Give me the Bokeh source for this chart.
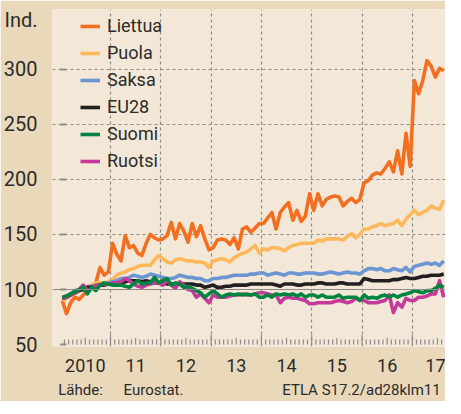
from bokeh.plotting import figure
from bokeh.models import (Range1d, FixedTicker, Span, Legend, LegendItem, LinearAxis)
from bokeh.embed import file_html
from bokeh.resources import INLINE

# ---- data (monthly index, Jan 2010 = 0) ----
start_year = 2010
years = [2010, 2011, 2012, 2013, 2014, 2015, 2016, 2017]
year_labels = ["2010", "11", "12", "13", "14", "15", "16", "17"]
y_ticks = [50, 100, 150, 200, 250, 300]
unit_label = "Ind."
footer_texts = ["Lähde:", "Eurostat.", "ETLA S17.2/ad28klm11"]

liettua = [90, 78, 88, 93, 91, 95, 99, 102, 106, 120, 113, 116,
           142, 132, 126, 149, 138, 140, 133, 131, 142, 150, 147, 145,
           146, 149, 161, 146, 160, 153, 143, 160, 148, 158, 146, 136,
           138, 145, 146, 145, 141, 147, 137, 155, 157, 152, 156, 160,
           160, 165, 170, 155, 170, 175, 179, 163, 172, 162, 167, 187,
           172, 187, 176, 182, 184, 185, 184, 176, 180, 183, 179, 182,
           197, 199, 204, 206, 205, 210, 216, 207, 226, 205, 242, 212,
           290, 278, 290, 308, 303, 293, 301, 299]
puola = [90, 92, 95, 96, 99, 100, 103, 104, 106, 106, 106, 107,
         109, 113, 115, 116, 118, 119, 121, 122, 122, 122, 127, 131,
         128, 125, 124, 127, 128, 127, 126, 126, 125, 125, 124, 120,
         126, 127, 128, 127, 125, 129, 131, 133, 134, 137, 140, 133,
         137, 136, 138, 138, 137, 135, 138, 140, 141, 142, 142, 142,
         142, 145, 144, 146, 146, 146, 146, 145, 148, 151, 147, 150,
         155, 155, 157, 158, 160, 158, 159, 160, 163, 158, 164, 168,
         172, 168, 170, 172, 176, 174, 173, 181]
saksa = [92, 94, 96, 99, 100, 101, 102, 103, 103, 104, 105, 106,
         107, 108, 110, 110, 111, 113, 112, 111, 112, 114, 113, 112,
         111, 110, 110, 111, 113, 112, 111, 111, 110, 110, 108, 108,
         110, 110, 111, 111, 112, 113, 113, 113, 113, 114, 114, 115,
         115, 113, 114, 115, 114, 113, 115, 115, 114, 114, 115, 115,
         115, 114, 114, 115, 116, 115, 114, 115, 116, 115, 115, 114,
         117, 119, 119, 118, 119, 117, 117, 119, 118, 117, 120, 116,
         121, 122, 123, 124, 123, 124, 122, 126]
eu28 = [92, 93, 95, 97, 99, 100, 102, 102, 103, 104, 104, 105,
        105, 106, 106, 107, 108, 108, 108, 107, 108, 107, 106, 106,
        106, 105, 105, 105, 106, 105, 105, 105, 104, 104, 102, 103,
        104, 102, 102, 103, 103, 104, 104, 104, 104, 105, 105, 105,
        105, 105, 105, 104, 103, 105, 105, 105, 104, 104, 105, 105,
        105, 106, 106, 105, 105, 105, 106, 106, 105, 105, 105, 105,
        110, 109, 108, 108, 108, 108, 108, 109, 109, 110, 111, 110,
        110, 111, 112, 112, 113, 113, 113, 114]
suomi = [93, 94, 96, 98, 100, 102, 96, 102, 99, 104, 106, 105,
         104, 104, 104, 103, 102, 105, 108, 105, 106, 106, 111, 106,
         108, 110, 104, 106, 105, 102, 103, 101, 99, 97, 93, 96,
         99, 96, 93, 95, 96, 95, 96, 95, 96, 95, 96, 93,
         93, 95, 93, 96, 95, 96, 95, 96, 94, 96, 93, 95,
         95, 93, 95, 93, 93, 93, 95, 92, 93, 93, 93, 90,
         95, 92, 93, 92, 94, 95, 93, 95, 93, 95, 96, 97,
         99, 98, 97, 99, 99, 101, 104, 102]
ruotsi = [92, 93, 95, 97, 100, 104, 99, 101, 104, 104, 105, 105,
          106, 106, 107, 110, 108, 105, 103, 102, 104, 105, 106, 106,
          104, 108, 104, 101, 107, 104, 100, 99, 93, 96, 92, 88,
          95, 93, 93, 93, 94, 95, 95, 96, 95, 95, 96, 97,
          97, 96, 95, 95, 88, 92, 93, 92, 92, 91, 90, 87,
          87, 88, 88, 88, 88, 89, 90, 89, 88, 89, 92, 91,
          90, 88, 88, 88, 89, 90, 95, 79, 88, 84, 92, 90,
          90, 93, 93, 94, 96, 96, 108, 93]

series = [("Liettua", liettua, "#f26f21"),
          ("Puola", puola, "#fdb85c"),
          ("Saksa", saksa, "#6b95d3"),
          ("EU28", eu28, "#231f20"),
          ("Ruotsi", ruotsi, "#c4399a"),
          ("Suomi", suomi, "#00843f")]
legend_order = ["Liettua", "Puola", "Saksa", "EU28", "Suomi", "Ruotsi"]

n = len(liettua)
xs = [start_year + (i + 0.5) / 12 for i in range(n)]

FONT = "Roboto"
TXT = "#2b2b2b"
OUTER = "#ead8bb"
INNER = "#f3e8d7"
GRID = "#8e8b87"

X0, X1 = 2009.847, 2017.66
Y0, Y1 = 48.2, 354.5
FRAME_H = 337

p = figure(frame_width=393, frame_height=FRAME_H, output_backend="svg", toolbar_location=None,
           x_range=Range1d(X0, X1), y_range=Range1d(Y0, Y1),
           min_border_left=52, min_border_right=0, min_border_top=9, min_border_bottom=52,
           background_fill_color=INNER, border_fill_color=OUTER, outline_line_color=None)

# grids
p.ygrid.ticker = FixedTicker(ticks=[t for t in y_ticks if t > 100])
p.ygrid.grid_line_color = GRID
p.ygrid.grid_line_dash = "3 3"
p.ygrid.grid_line_width = 1.2
p.xgrid.ticker = FixedTicker(ticks=years[1:])
p.xgrid.grid_line_color = GRID
p.xgrid.grid_line_dash = "3 3"
p.xgrid.grid_line_width = 1.2
p.add_layout(Span(location=100, dimension="width", line_color="#8e8b87", line_width=1.2))

# y axis (unit label shown as top label)
p.yaxis.ticker = FixedTicker(ticks=y_ticks + [345])
p.yaxis.major_label_overrides = {345: unit_label}
p.yaxis.axis_line_color = None
p.yaxis.major_tick_line_color = None
p.yaxis.minor_tick_line_color = None
p.yaxis.major_label_standoff = 9
p.yaxis.major_label_text_font = FONT
p.yaxis.major_label_text_font_size = "20px"
p.yaxis.major_label_text_color = TXT

# short tick marks at start of horizontal grid lines
p.segment(x0=[2010.0] * len(y_ticks), x1=[2010.0 + 6 / 50.3] * len(y_ticks),
          y0=y_ticks, y1=y_ticks, line_color="#8e8b87", line_width=2)

# x axis: year labels centred in each year
p.xaxis.ticker = FixedTicker(ticks=[y + 0.5 for y in years])
p.xaxis.major_label_overrides = {y + 0.5: lab for y, lab in zip(years, year_labels)}
p.xaxis.axis_line_color = None
p.xaxis.major_tick_line_color = None
p.xaxis.minor_tick_line_color = None
p.xaxis.major_label_standoff = 6
p.xaxis.major_label_text_font = FONT
p.xaxis.major_label_text_font_size = "18px"
p.xaxis.major_label_text_color = TXT

# footer line as a second, bare axis below
foot_pos = [2010.405, 2011.855, 2015.99]
foot = LinearAxis(ticker=FixedTicker(ticks=foot_pos),
                  major_label_overrides={pos: t for pos, t in zip(foot_pos, footer_texts)},
                  axis_line_color=None, major_tick_line_color=None, minor_tick_line_color=None,
                  major_label_standoff=0, major_label_text_font=FONT,
                  major_label_text_font_size="15px", major_label_text_color=TXT)
p.add_layout(foot, "below")

# month ticks along the 50 line
tx, ty1 = [], []
for k in range(1, 12 * 8 + 1):
    t = start_year + k / 12
    if t > X1:
        break
    tx.append(t)
    if k % 12 == 0:
        ty1.append(58.6)
    elif k % 6 == 0:
        ty1.append(56.0)
    else:
        ty1.append(54.5)
p.segment(x0=tx, x1=tx, y0=[50] * len(tx), y1=ty1, line_color="#8f8b86", line_width=1.2)

# data lines
renderers = {}
for name, vals, col in series:
    r = p.line(xs, vals, line_color=col, line_width=3.6, line_join="round")
    renderers[name] = r

legend = Legend(items=[LegendItem(label=nm, renderers=[renderers[nm]]) for nm in legend_order],
                location=(28, FRAME_H - 6 - 156), orientation="vertical",
                background_fill_alpha=0, border_line_color=None,
                glyph_width=20, glyph_height=20, label_height=20, spacing=6,
                padding=0, margin=0, label_standoff=7,
                label_text_font=FONT, label_text_font_size="18px", label_text_color=TXT)
p.add_layout(legend)

open("out.html", "w").write(file_html(p, INLINE))
